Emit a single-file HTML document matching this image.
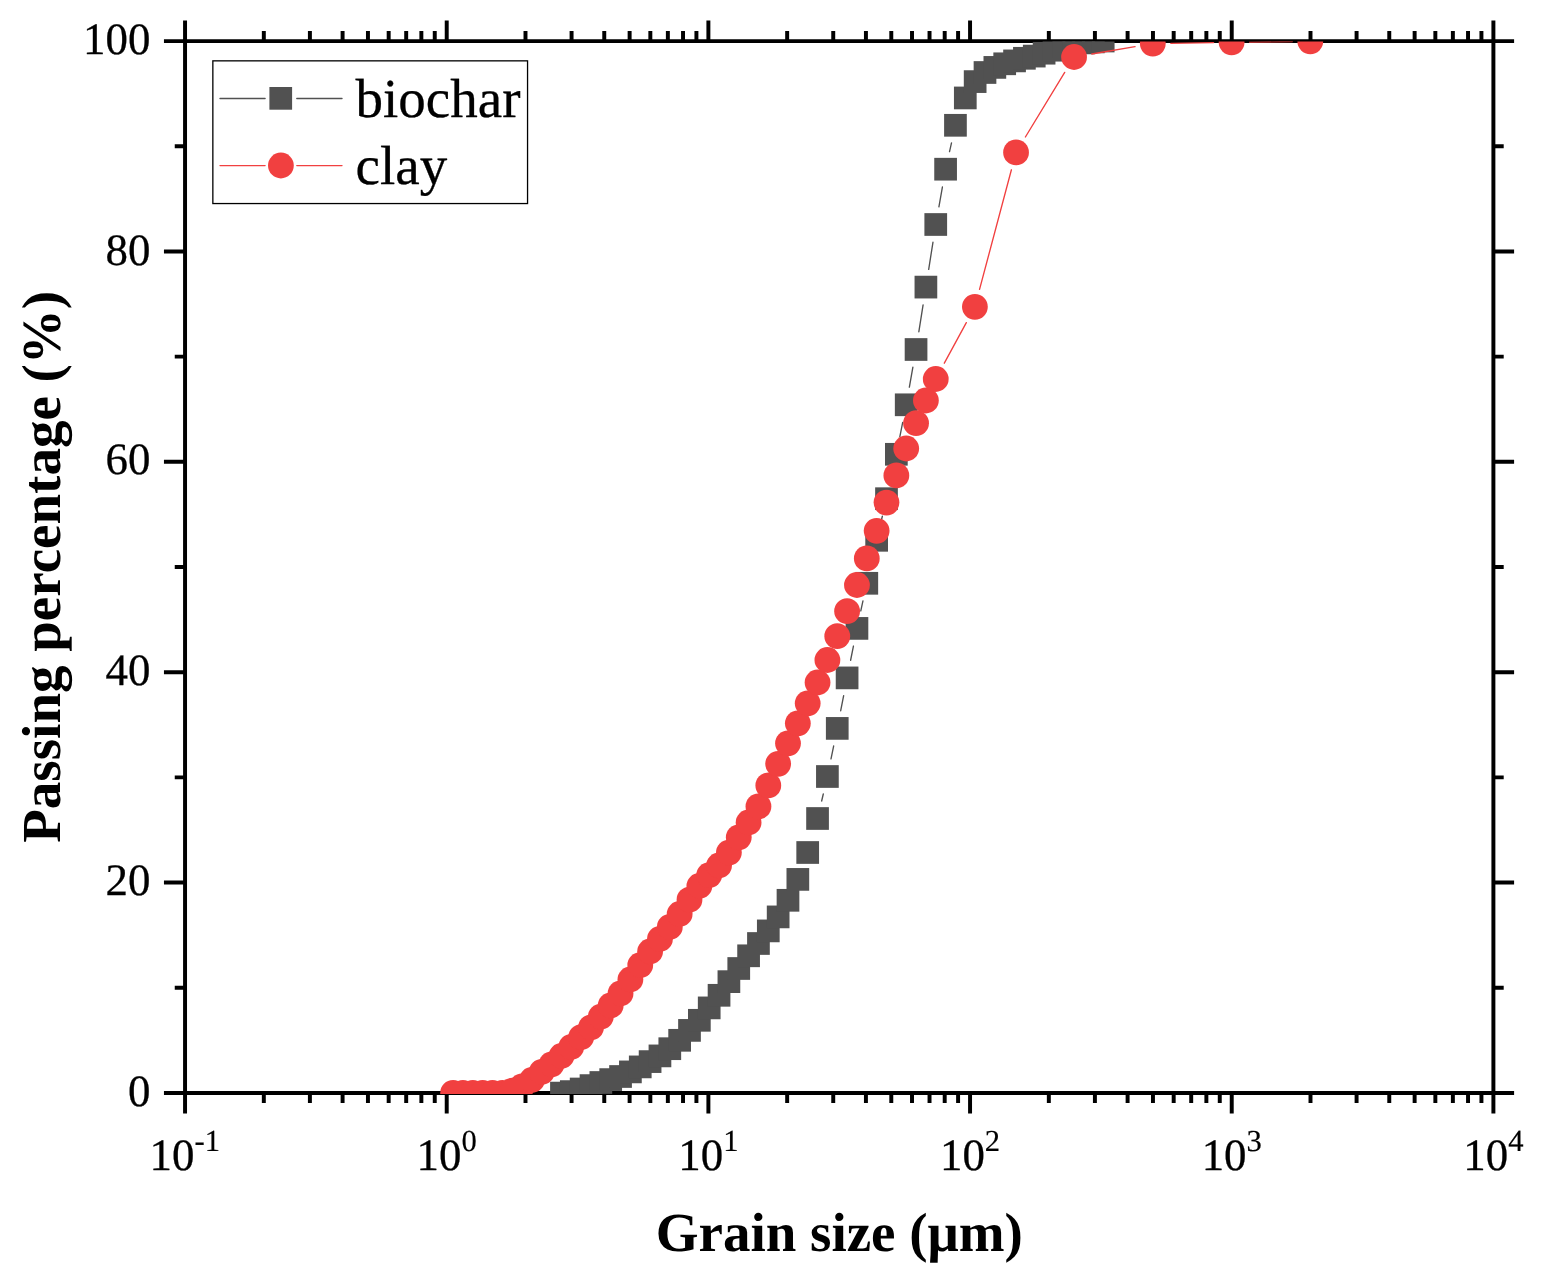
<!DOCTYPE html>
<html lang="en"><head><meta charset="utf-8"><title>Grain size distribution</title>
<style>
html,body{margin:0;padding:0;background:#fff}
body{width:1545px;height:1281px;overflow:hidden}
svg{display:block}
.s{stroke:#000;stroke-width:.3px;stroke-linejoin:round}
.s2{stroke:#000;stroke-width:.2px;stroke-linejoin:round}
</style></head><body>
<svg width="1545" height="1281" viewBox="0 0 1545 1281">
<rect width="1545" height="1281" fill="#fff"/>
<defs><clipPath id="pc"><rect x="185.05" y="41.5" width="1308.35" height="1052.5"/></clipPath></defs>
<g stroke="#000" stroke-width="3.95" fill="none" stroke-linecap="butt">
<path d="M163.95 41.1H1514.1M163.95 1092.9H1514.1M185.05 20.6V1113.4M1493.4 20.6V1113.4"/>
<path d="M263.82 31.1V41.1M263.82 1092.9V1102.9M309.9 31.1V41.1M309.9 1092.9V1102.9M342.59 31.1V41.1M342.59 1092.9V1102.9M367.95 31.1V41.1M367.95 1092.9V1102.9M388.67 31.1V41.1M388.67 1092.9V1102.9M406.19 31.1V41.1M406.19 1092.9V1102.9M421.36 31.1V41.1M421.36 1092.9V1102.9M434.75 31.1V41.1M434.75 1092.9V1102.9M446.72 20.6V41.1M446.72 1092.9V1113.4M525.49 31.1V41.1M525.49 1092.9V1102.9M571.57 31.1V41.1M571.57 1092.9V1102.9M604.26 31.1V41.1M604.26 1092.9V1102.9M629.62 31.1V41.1M629.62 1092.9V1102.9M650.34 31.1V41.1M650.34 1092.9V1102.9M667.86 31.1V41.1M667.86 1092.9V1102.9M683.03 31.1V41.1M683.03 1092.9V1102.9M696.42 31.1V41.1M696.42 1092.9V1102.9M708.39 20.6V41.1M708.39 1092.9V1113.4M787.16 31.1V41.1M787.16 1092.9V1102.9M833.24 31.1V41.1M833.24 1092.9V1102.9M865.93 31.1V41.1M865.93 1092.9V1102.9M891.29 31.1V41.1M891.29 1092.9V1102.9M912.01 31.1V41.1M912.01 1092.9V1102.9M929.53 31.1V41.1M929.53 1092.9V1102.9M944.7 31.1V41.1M944.7 1092.9V1102.9M958.09 31.1V41.1M958.09 1092.9V1102.9M970.06 20.6V41.1M970.06 1092.9V1113.4M1048.83 31.1V41.1M1048.83 1092.9V1102.9M1094.91 31.1V41.1M1094.91 1092.9V1102.9M1127.6 31.1V41.1M1127.6 1092.9V1102.9M1152.96 31.1V41.1M1152.96 1092.9V1102.9M1173.68 31.1V41.1M1173.68 1092.9V1102.9M1191.2 31.1V41.1M1191.2 1092.9V1102.9M1206.37 31.1V41.1M1206.37 1092.9V1102.9M1219.76 31.1V41.1M1219.76 1092.9V1102.9M1231.73 20.6V41.1M1231.73 1092.9V1113.4M1310.5 31.1V41.1M1310.5 1092.9V1102.9M1356.58 31.1V41.1M1356.58 1092.9V1102.9M1389.27 31.1V41.1M1389.27 1092.9V1102.9M1414.63 31.1V41.1M1414.63 1092.9V1102.9M1435.35 31.1V41.1M1435.35 1092.9V1102.9M1452.87 31.1V41.1M1452.87 1092.9V1102.9M1468.04 31.1V41.1M1468.04 1092.9V1102.9M1481.43 31.1V41.1M1481.43 1092.9V1102.9M174.75 987.72H185.05M1493.4 987.72H1503.7M163.95 882.54H185.05M1493.4 882.54H1514.1M174.75 777.36H185.05M1493.4 777.36H1503.7M163.95 672.18H185.05M1493.4 672.18H1514.1M174.75 567H185.05M1493.4 567H1503.7M163.95 461.82H185.05M1493.4 461.82H1514.1M174.75 356.64H185.05M1493.4 356.64H1503.7M163.95 251.46H185.05M1493.4 251.46H1514.1M174.75 146.28H185.05M1493.4 146.28H1503.7"/>
</g>
<g clip-path="url(#pc)">
<path d="M821.66 800.98L823.29 794.02M831.01 758.87L833.64 746.03M840.7 710.73L843.65 695.57M850.61 660.25L853.44 646.05M860.79 610.81L862.96 600.89M870.82 565.75L872.63 557.85M880.8 522.78L882.35 516.22M890.4 481.13L892.45 471.87M899.86 436.65L902.69 422.45M909.36 387.08L912.89 367.22M918.86 331.72L923.09 304.88M928.7 269.32L932.95 242.28M938.91 206.78L942.44 186.92M949.54 151.64L951.51 142.86" stroke="#515151" stroke-width="1.35" stroke-linecap="round" fill="none"/>
<g fill="#515151"><rect x="550.1" y="1081.75" width="22.7" height="22.7"/><rect x="559.95" y="1080.25" width="22.7" height="22.7"/><rect x="569.8" y="1077.65" width="22.7" height="22.7"/><rect x="579.65" y="1074.25" width="22.7" height="22.7"/><rect x="589.5" y="1071.15" width="22.7" height="22.7"/><rect x="599.35" y="1068.25" width="22.7" height="22.7"/><rect x="609.2" y="1065.15" width="22.7" height="22.7"/><rect x="619.05" y="1060.55" width="22.7" height="22.7"/><rect x="628.9" y="1055.55" width="22.7" height="22.7"/><rect x="638.75" y="1050.25" width="22.7" height="22.7"/><rect x="648.6" y="1044.55" width="22.7" height="22.7"/><rect x="658.45" y="1037.35" width="22.7" height="22.7"/><rect x="668.3" y="1028.95" width="22.7" height="22.7"/><rect x="678.15" y="1019.05" width="22.7" height="22.7"/><rect x="688" y="1008.95" width="22.7" height="22.7"/><rect x="697.85" y="996.55" width="22.7" height="22.7"/><rect x="707.7" y="983.95" width="22.7" height="22.7"/><rect x="717.55" y="970.3" width="22.7" height="22.7"/><rect x="727.4" y="957.15" width="22.7" height="22.7"/><rect x="737.25" y="944.45" width="22.7" height="22.7"/><rect x="747.1" y="932.15" width="22.7" height="22.7"/><rect x="756.95" y="919.55" width="22.7" height="22.7"/><rect x="766.8" y="905.55" width="22.7" height="22.7"/><rect x="776.65" y="888.95" width="22.7" height="22.7"/><rect x="786.5" y="868.05" width="22.7" height="22.7"/><rect x="796.35" y="841.15" width="22.7" height="22.7"/><rect x="806.2" y="807.15" width="22.7" height="22.7"/><rect x="816.05" y="765.15" width="22.7" height="22.7"/><rect x="825.9" y="717.05" width="22.7" height="22.7"/><rect x="835.75" y="666.55" width="22.7" height="22.7"/><rect x="845.6" y="617.05" width="22.7" height="22.7"/><rect x="855.45" y="571.95" width="22.7" height="22.7"/><rect x="865.3" y="528.95" width="22.7" height="22.7"/><rect x="875.15" y="487.35" width="22.7" height="22.7"/><rect x="885" y="442.95" width="22.7" height="22.7"/><rect x="894.85" y="393.45" width="22.7" height="22.7"/><rect x="904.7" y="338.15" width="22.7" height="22.7"/><rect x="914.55" y="275.75" width="22.7" height="22.7"/><rect x="924.4" y="213.15" width="22.7" height="22.7"/><rect x="934.25" y="157.85" width="22.7" height="22.7"/><rect x="944.1" y="113.95" width="22.7" height="22.7"/><rect x="953.95" y="86.6" width="22.7" height="22.7"/><rect x="963.8" y="70.25" width="22.7" height="22.7"/><rect x="973.65" y="61.15" width="22.7" height="22.7"/><rect x="983.5" y="56.05" width="22.7" height="22.7"/><rect x="993.35" y="52.45" width="22.7" height="22.7"/><rect x="1003.2" y="49.55" width="22.7" height="22.7"/><rect x="1013.05" y="46.95" width="22.7" height="22.7"/><rect x="1022.9" y="44.75" width="22.7" height="22.7"/><rect x="1032.75" y="41.85" width="22.7" height="22.7"/><rect x="1042.6" y="38.85" width="22.7" height="22.7"/><rect x="1052.45" y="36.15" width="22.7" height="22.7"/><rect x="1062.3" y="33.65" width="22.7" height="22.7"/><rect x="1072.15" y="31.55" width="22.7" height="22.7"/><rect x="1082" y="30.55" width="22.7" height="22.7"/><rect x="1091.85" y="29.65" width="22.7" height="22.7"/></g>
<path d="M944.33 363.18L966.32 322.62M979.54 289.41L1011.41 169.79M1025.4 137.02L1064.7 72.38M1091.79 53.98L1135.06 46.62M1170.8 43.3L1213.6 42.6M1249.6 42.07L1292.3 41.53" stroke="#F14040" stroke-width="1.35" stroke-linecap="round" fill="none"/>
<g fill="#F14040"><circle cx="453.1" cy="1092.9" r="12.9"/><circle cx="462.95" cy="1092.9" r="12.9"/><circle cx="472.8" cy="1092.9" r="12.9"/><circle cx="482.65" cy="1092.9" r="12.9"/><circle cx="492.5" cy="1092.9" r="12.9"/><circle cx="502.35" cy="1092.9" r="12.9"/><circle cx="512.2" cy="1090.7" r="12.9"/><circle cx="522.05" cy="1086.3" r="12.9"/><circle cx="531.9" cy="1080" r="12.9"/><circle cx="541.75" cy="1071.9" r="12.9"/><circle cx="551.6" cy="1064.3" r="12.9"/><circle cx="561.45" cy="1056" r="12.9"/><circle cx="571.3" cy="1046.8" r="12.9"/><circle cx="581.15" cy="1037.2" r="12.9"/><circle cx="591" cy="1027.4" r="12.9"/><circle cx="600.85" cy="1016.6" r="12.9"/><circle cx="610.7" cy="1005.4" r="12.9"/><circle cx="620.55" cy="993.4" r="12.9"/><circle cx="630.4" cy="979.5" r="12.9"/><circle cx="640.25" cy="965.1" r="12.9"/><circle cx="650.1" cy="951.5" r="12.9"/><circle cx="659.95" cy="938.9" r="12.9"/><circle cx="669.8" cy="926.9" r="12.9"/><circle cx="679.65" cy="914" r="12.9"/><circle cx="689.5" cy="899.7" r="12.9"/><circle cx="699.35" cy="886" r="12.9"/><circle cx="709.2" cy="875.1" r="12.9"/><circle cx="719.05" cy="865.5" r="12.9"/><circle cx="728.9" cy="852.6" r="12.9"/><circle cx="738.75" cy="837.3" r="12.9"/><circle cx="748.6" cy="822.5" r="12.9"/><circle cx="758.45" cy="806.4" r="12.9"/><circle cx="768.3" cy="785.4" r="12.9"/><circle cx="778.15" cy="763.8" r="12.9"/><circle cx="788" cy="743.3" r="12.9"/><circle cx="797.85" cy="723.3" r="12.9"/><circle cx="807.7" cy="703.3" r="12.9"/><circle cx="817.55" cy="682.5" r="12.9"/><circle cx="827.4" cy="660" r="12.9"/><circle cx="837.25" cy="636.2" r="12.9"/><circle cx="847.1" cy="611.2" r="12.9"/><circle cx="856.95" cy="585" r="12.9"/><circle cx="866.8" cy="558.4" r="12.9"/><circle cx="876.65" cy="530.8" r="12.9"/><circle cx="886.5" cy="502.6" r="12.9"/><circle cx="896.35" cy="475.4" r="12.9"/><circle cx="906.2" cy="448.5" r="12.9"/><circle cx="916.05" cy="423.2" r="12.9"/><circle cx="925.9" cy="400.5" r="12.9"/><circle cx="935.75" cy="379" r="12.9"/><circle cx="974.9" cy="306.8" r="12.9"/><circle cx="1016.05" cy="152.4" r="12.9"/><circle cx="1074.05" cy="57" r="12.9"/><circle cx="1152.8" cy="43.6" r="12.9"/><circle cx="1231.6" cy="42.3" r="12.9"/><circle cx="1310.3" cy="41.3" r="12.9"/></g>
</g>
<rect x="212.85" y="60.85" width="314.7" height="142.7" fill="#fff" stroke="#000" stroke-width="1.3"/>
<path d="M220 98.5H265.1M296.8 98.5H342" stroke="#515151" stroke-width="1.35" stroke-linecap="round"/>
<rect x="269.4" y="87" width="22.7" height="22.7" fill="#515151"/>
<path d="M220 165.6H265.1M296.8 165.6H342" stroke="#F14040" stroke-width="1.35" stroke-linecap="round"/>
<circle cx="280.9" cy="165.5" r="12.9" fill="#F14040"/>
<g font-family="'Liberation Serif',serif" fill="#000" text-rendering="geometricPrecision">
<text x="355.6" y="116.7" font-size="55.0" class="s">biochar</text>
<text x="355.6" y="183.6" font-size="55.0" class="s">clay</text>
<text x="150.4" y="1105.8" font-size="44.9" class="s" text-anchor="end">0</text>
<text x="150.4" y="894.99" font-size="44.9" class="s" text-anchor="end">20</text>
<text x="150.4" y="684.68" font-size="44.9" class="s" text-anchor="end">40</text>
<text x="150.4" y="474.27" font-size="44.9" class="s" text-anchor="end">60</text>
<text x="150.4" y="264.61" font-size="44.9" class="s" text-anchor="end">80</text>
<text x="150.4" y="54.2" font-size="44.9" class="s" text-anchor="end">100</text>
<text x="149.55" y="1169.6" font-size="44.9" class="s">10</text>
<text x="194.45" y="1151.2" font-size="30.6" class="s2">-1</text>
<text x="416.62" y="1169.6" font-size="44.9" class="s">10</text>
<text x="461.52" y="1151.2" font-size="30.6" class="s2">0</text>
<text x="678.29" y="1169.6" font-size="44.9" class="s">10</text>
<text x="723.19" y="1151.2" font-size="30.6" class="s2">1</text>
<text x="939.96" y="1169.6" font-size="44.9" class="s">10</text>
<text x="984.86" y="1151.2" font-size="30.6" class="s2">2</text>
<text x="1201.63" y="1169.6" font-size="44.9" class="s">10</text>
<text x="1246.53" y="1151.2" font-size="30.6" class="s2">3</text>
<text x="1463.3" y="1169.6" font-size="44.9" class="s">10</text>
<text x="1508.2" y="1151.2" font-size="30.6" class="s2">4</text>
<text x="839.3" y="1250.8" font-size="55.0" font-weight="bold" text-anchor="middle">Grain size (μm)</text>
<text transform="translate(60.4 566.8) rotate(-90)" font-size="55.0" font-weight="bold" text-anchor="middle">Passing percentage (%)</text>
</g>
</svg>
</body></html>
